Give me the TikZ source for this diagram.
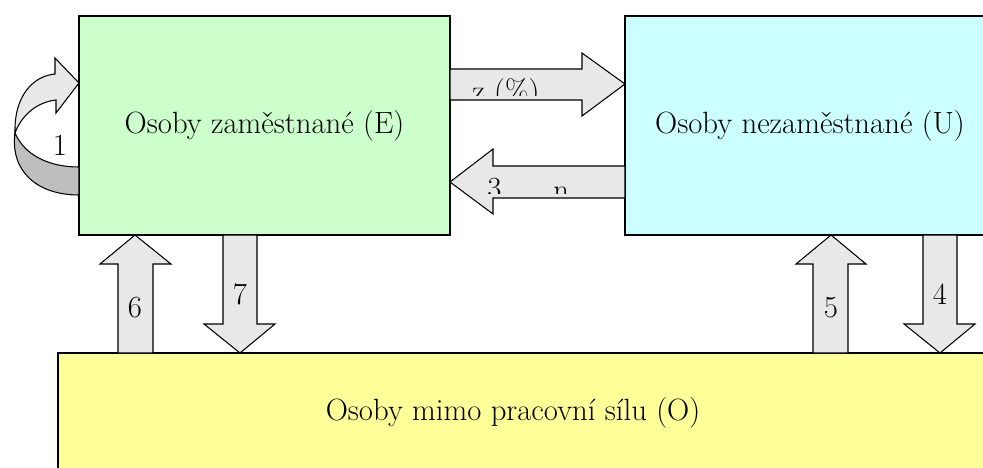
\documentclass[tikz,border=0pt]{standalone}
\usepackage{fontspec}
\usetikzlibrary{positioning}

\definecolor{zamcol}{HTML}{CCFFCC}
\definecolor{nezcol}{HTML}{CCFFFF}
\definecolor{mimocol}{HTML}{FFFF99}
\definecolor{flowcol}{HTML}{E8E8E8}
\definecolor{backcol}{HTML}{BEBEBE}

\tikzset{
  box/.style={draw, line width=1.2pt, inner sep=0pt, outer sep=0pt},
  flow/.style={draw, fill=flowcol, line width=0.6pt, line join=miter},
  num/.style={inner sep=0pt, font=\fontsize{17.5}{21}\selectfont}
}

\begin{document}
\begin{tikzpicture}[x=0.02cm, y=-0.02cm, font=\fontsize{17.5}{21}\selectfont]
\useasboundingbox (0,0) rectangle (983,467);
\clip (0,0) rectangle (983,467);

% the three groups
\node[box, fill=zamcol, minimum width=7.42cm, minimum height=4.38cm] (E) at (264.5,125.5) {Osoby zaměstnané (E)};
\node[box, fill=nezcol, minimum width=7.40cm, minimum height=4.38cm] (U) at (810,125.5) {Osoby nezaměstnané (U)};
\node[box, fill=mimocol, minimum width=18.84cm, minimum height=2.4cm] (O) at (529,413) {};
\node (Otext) at (513,413) {Osoby mimo pracovní sílu (O)};

% E -> U and U -> E
\draw[flow] (450,69) -- (582,69) -- (582,53) -- (625,84) -- (582,116) -- (582,100) -- (450,100) -- cycle;
\draw[flow] (625,166) -- (493,166) -- (493,149) -- (450,182) -- (493,214) -- (493,198) -- (625,198) -- cycle;
\begin{scope}
\clip (451,70) rectangle (581,95);
\node[num, anchor=base west] (z) at (472,101) {z (\%)};
\end{scope}
\begin{scope}
\clip (451,167) rectangle (624,193);
\node[num, anchor=base west] (n3) at (487,198) {3};
\node[num, anchor=base west] (nn) at (553,200) {n};
\end{scope}

% E -> E
\draw[flow, fill=backcol] (15,133) .. controls (25,156) and (50,167) .. (79,167) -- (79,195) .. controls (38,195) and (10,172) .. (15,133) -- cycle;
\draw[flow] (15,133) .. controls (14,96) and (33,76) .. (55,74) -- (55,58) -- (79,83) -- (56,113) -- (56,100) .. controls (38,102) and (22,114) .. (15,133) -- cycle;
\node[num] (one) at (60,145) {1};

% O -> E and E -> O
\draw[flow] (118,353) -- (118,264) -- (100,264) -- (135,235) -- (171,264) -- (153,264) -- (153,353) -- cycle;
\node[num] (six) at (135,308) {6};
\draw[flow] (223,235) -- (223,324) -- (204,324) -- (240,353) -- (275,324) -- (257,324) -- (257,235) -- cycle;
\node[num] (seven) at (240,294) {7};

% O -> U and U -> O
\draw[flow] (813,353) -- (813,264) -- (796,264) -- (831,235) -- (866,264) -- (848,264) -- (848,353) -- cycle;
\node[num] (five) at (831,308) {5};
\draw[flow] (923,235) -- (923,324) -- (904,324) -- (940,353) -- (975,324) -- (957,324) -- (957,235) -- cycle;
\node[num] (four) at (940,294) {4};
\end{tikzpicture}
\end{document}
